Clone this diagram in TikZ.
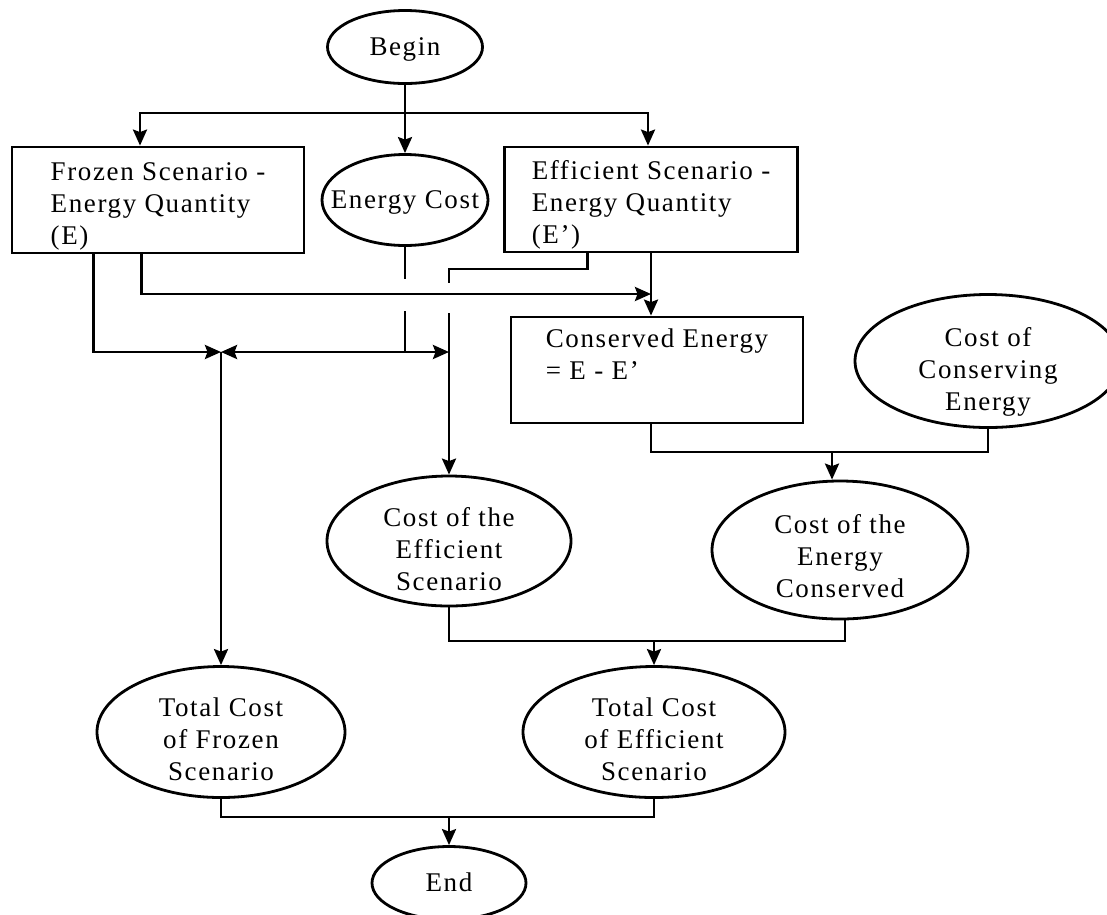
\documentclass[tikz,border=0pt]{standalone}
\usepackage{fontspec}
\setmainfont{Liberation Serif}[LetterSpace=6, Ligatures={TeX,NoCommon}]
\usetikzlibrary{shapes.geometric, arrows.meta}

% text of an oval, kept out of the node size
\newcommand{\ovtext}[2][8pt]{\raisebox{-#1}[0pt][0pt]{\makebox[0pt]{\begin{tabular}{@{}c@{}}#2\end{tabular}}}}

\begin{document}
\begin{tikzpicture}[
    x=1pt, y=-1pt,
    line width=2.8pt,
    every node/.style={font=\fontsize{27}{32}\selectfont},
    box/.style={rectangle, draw, inner sep=2pt, align=left},
    oval/.style={ellipse, draw, inner sep=0pt},
    arrow/.style={-{Stealth[length=16pt, width=14pt, inset=2.5pt]}}
]
\useasboundingbox (0,0) rectangle (1107,914);

\node[oval, minimum width=155pt, minimum height=73pt] (begin) at (405,47) {\ovtext{Begin}};
\node[box, minimum width=292pt, minimum height=106pt] (frozen) at (158,200) {\rule{0pt}{30pt}Frozen Scenario -\\Energy Quantity\\(E)};
\node[oval, minimum width=166pt, minimum height=91pt] (ecost) at (405,200) {\ovtext{Energy Cost}};
\node[box, minimum width=293pt, minimum height=105pt] (effic) at (651,199.5) {\rule{0pt}{30pt}Efficient Scenario -\\Energy Quantity\\(E')};
\node[box, minimum width=292pt, minimum height=106pt] (conserved) at (657,370) {Conserved Energy\\= E - E'\\\mbox{}};
\node[oval, minimum width=266pt, minimum height=133pt] (costcons) at (988,361) {\ovtext[17pt]{Cost of\\Conserving\\Energy}};
\node[oval, minimum width=244pt, minimum height=130pt] (costeff) at (449,541) {\ovtext[17pt]{Cost of the\\Efficient\\Scenario}};
\node[oval, minimum width=256pt, minimum height=138pt] (costecons) at (840,550) {\ovtext[15pt]{Cost of the\\Energy\\Conserved}};
\node[oval, minimum width=248pt, minimum height=131pt] (totfroz) at (221,732) {\ovtext[16pt]{Total Cost\\of Frozen\\Scenario}};
\node[oval, minimum width=262pt, minimum height=131pt] (toteff) at (654,732) {\ovtext[16pt]{Total Cost\\of Efficient\\Scenario}};
\node[oval, minimum width=154pt, minimum height=73pt] (end) at (449,883) {\ovtext{End}};

% junctions
\coordinate (split) at (405,113);
\coordinate (jfroz) at (221,352);
\coordinate (jeff) at (449,352);
\coordinate (ecdrop) at (405,352);
\coordinate (ecgapA) at (405,279);
\coordinate (ecgapB) at (405,311);
\coordinate (jcons) at (651,294);
\coordinate (effbend) at (449,269);
\coordinate (efgapA) at (449,283);
\coordinate (efgapB) at (449,313);
\coordinate (jce) at (832,452);
\coordinate (jtot) at (654,641);
\coordinate (jend) at (449,817);

\draw (begin) -- (split);
\draw[arrow] (split) -- (ecost);
\draw[arrow] (split) -| ([xshift=-18pt]frozen.north);
\draw[arrow] (split) -| ([xshift=-3pt]effic.north);

\draw[arrow] ([xshift=83pt]frozen.south west) |- (jfroz);
\draw[arrow] ([xshift=131pt]frozen.south west) |- (jcons);
\draw (ecost) -- (ecgapA);
\draw (ecgapB) -- (ecdrop);
\draw[arrow] (ecdrop) -- (jfroz);
\draw[arrow] (ecdrop) -- (jeff);
\draw[arrow] (jfroz) -- (totfroz);

\draw ([xshift=84.5pt]effic.south west) |- (effbend) -- (efgapA);
\draw[arrow] (efgapB) -- (costeff);
\draw[arrow] (effic) -- (effic |- conserved.north);

\draw ([xshift=-6pt]conserved.south) |- (jce) -| (costcons.south);
\draw[arrow] (jce) -- (jce |- costecons.north);
\draw (costeff.south) |- (jtot) -| ([xshift=5pt]costecons.south);
\draw[arrow] (jtot) -- (toteff);
\draw (totfroz.south) |- (jend) -| (toteff.south);
\draw[arrow] (jend) -- (end);

\end{tikzpicture}
\end{document}
